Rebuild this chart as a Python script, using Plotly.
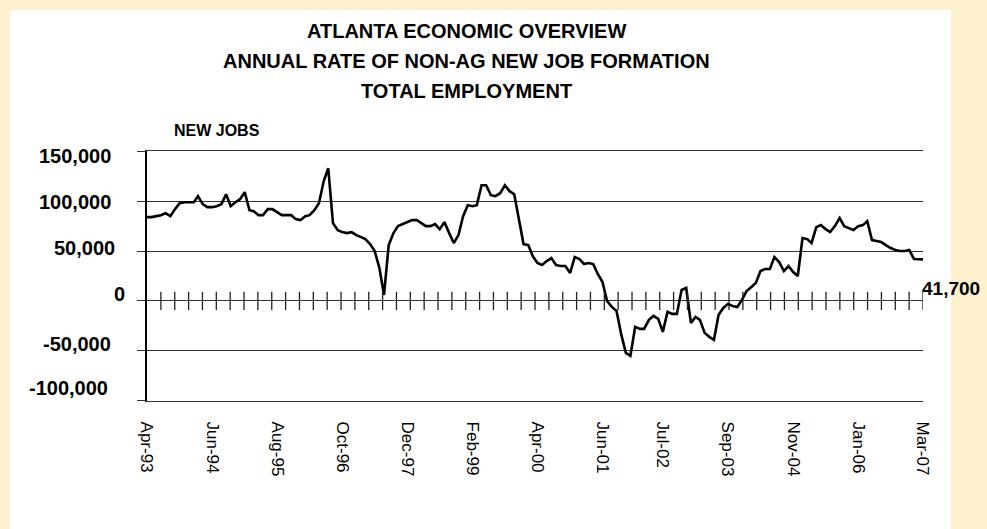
import numpy as np
import pandas as pd
import plotly.graph_objects as go

# ---- data -------------------------------------------------------------
start_month = "1993-04-01"

# Annual rate of non-ag new job formation, Atlanta, thousands of jobs (Apr-93 .. Mar-07)
new_jobs_k = [
    84, 84, 85, 86, 88, 85, 92, 98, 99, 99, 99, 105, 97, 94, 94, 95, 97, 107, 95, 99,
    102, 109, 91, 90, 86, 86, 92, 92, 89, 86, 86, 86, 82, 81, 85, 86, 91, 98, 120, 133,
    78, 71, 69, 68, 69, 66, 64, 62, 57, 50, 33, 6, 56, 68, 75, 77, 79, 81, 81, 78,
    75, 75, 77, 72, 79, 68, 58, 66, 85, 96, 95, 96, 116, 116, 106, 105, 108, 116, 110, 107,
    82, 57, 56, 45, 38, 36, 40, 43, 36, 35, 35, 28, 44, 42, 37, 38, 37, 27, 19, 0,
    -6, -10, -33, -52, -55, -26, -28, -28, -19, -15, -18, -31, -11, -13, -13, 11, 13, -22, -16, -19,
    -32, -36, -39, -14, -7, -3, -5, -6, 1, 10, 14, 18, 30, 32, 32, 44, 39, 30, 35, 29,
    25, 63, 62, 58, 74, 76, 72, 69, 75, 83, 75, 73, 71, 75, 76, 80, 61, 60, 59, 56,
    53, 51, 50, 50, 51, 42, 42, 41.7,
]

x_label_dates = ["1993-04-01", "1994-06-01", "1995-08-01", "1996-10-01", "1997-12-01",
                 "1999-02-01", "2000-04-01", "2001-06-01", "2002-07-01", "2003-09-01",
                 "2004-11-01", "2006-01-01", "2007-03-01"]
x_label_text = ["Apr-93", "Jun-94", "Aug-95", "Oct-96", "Dec-97", "Feb-99", "Apr-00",
                "Jun-01", "Jul-02", "Sep-03", "Nov-04", "Jan-06", "Mar-07"]

y_tick_values = [150000, 100000, 50000, 0, -50000, -100000]
y_tick_text = ["150,000", "100,000", "50,000", "0", "-50,000", "-100,000"]

title_lines = ["ATLANTA ECONOMIC OVERVIEW",
               "ANNUAL RATE OF NON-AG NEW JOB FORMATION",
               "TOTAL EMPLOYMENT"]
y_title = "NEW JOBS"

# ---- derived series ---------------------------------------------------
months = pd.date_range(start_month, periods=len(new_jobs_k), freq="MS")
new_jobs = [v * 1000 for v in new_jobs_k]

# quarterly tick marks drawn across the zero line
t0 = months[3].value
t1 = months[-1].value
quarter_ticks = pd.to_datetime(np.linspace(t0, t1, 56).astype("int64"))

# ---- layout geometry (pixels) ----------------------------------------
W, H = 987, 529
PL, PR, PT, PB = 147, 923, 151, 401          # plot-area box


def px_x(px):
    return (px - PL) / (PR - PL)


def px_y(py):
    return (PB - py) / (PB - PT)


FONT = "Liberation Sans, Arial, sans-serif"
YELLOW = "#FEF0CD"
GRID = "#333333"

fig = go.Figure()

# the job-formation series
fig.add_trace(go.Scatter(
    x=months, y=new_jobs, mode="lines",
    line=dict(color="black", width=2.6),
    hoverinfo="x+y", showlegend=False,
))

# tick marks crossing the zero line
fig.add_trace(go.Scatter(
    x=quarter_ticks, y=[0] * len(quarter_ticks), mode="markers",
    marker=dict(symbol="line-ns", size=13, line=dict(color="#222222", width=1.3)),
    hoverinfo="skip", showlegend=False,
))

annotations = []

# three-line title
title_centers = [31, 61, 91]
for line, cy in zip(title_lines, title_centers):
    annotations.append(dict(
        text=f"<b>{line}</b>", x=px_x(466), y=px_y(cy), xref="paper", yref="paper",
        xanchor="center", yanchor="middle", showarrow=False,
        font=dict(family=FONT, size=20, color="black"),
    ))

# axis caption above the value labels
annotations.append(dict(
    text=f"<b>{y_title}</b>", x=px_x(172), y=px_y(131), xref="paper", yref="paper",
    xanchor="left", yanchor="middle", showarrow=False,
    font=dict(family=FONT, size=16, color="black"),
))

# value labels on the left
label_right_edges = [113, 113, 117, 127, 113, 110]
label_shift_y = [-5, -1, 3, 7, 7, 13]
for val, txt, rx, sy in zip(y_tick_values, y_tick_text, label_right_edges, label_shift_y):
    annotations.append(dict(
        text=f"<b>{txt}</b>", x=px_x(rx), y=val, xref="paper", yref="y",
        xanchor="right", yanchor="middle", yshift=sy, showarrow=False,
        font=dict(family=FONT, size=20, color="black"),
    ))

# latest value label at the right end
last_val = new_jobs[-1]
annotations.append(dict(
    text=f"<b>{last_val:,.0f}</b>", x=months[-1], y=0, xref="x", yref="y",
    xanchor="left", yanchor="middle", xshift=-3, yshift=12, showarrow=False,
    font=dict(family=FONT, size=19, color="black"),
))

fig.update_layout(
    width=W, height=H,
    margin=dict(l=PL, r=W - PR, t=PT, b=H - PB, pad=0),
    paper_bgcolor=YELLOW, plot_bgcolor="white",
    showlegend=False,
    annotations=annotations,
    shapes=[dict(
        type="rect", xref="paper", yref="paper", layer="below",
        x0=px_x(10), x1=px_x(951), y0=px_y(H + 5), y1=px_y(10),
        fillcolor="white", line=dict(width=0),
    )],
)

fig.update_xaxes(
    range=[months[0], months[-1]],
    tickmode="array", tickvals=pd.to_datetime(x_label_dates), ticktext=x_label_text,
    tickangle=90, ticks="", showgrid=False, zeroline=False,
    showline=True, mirror=True, linecolor=GRID, linewidth=1.3,
    tickfont=dict(family=FONT, size=17, color="black"),
    ticklabelstandoff=16,
)

fig.update_yaxes(
    range=[-100300, 150300],
    tickmode="array", tickvals=y_tick_values, showticklabels=False,
    showgrid=True, gridcolor=GRID, gridwidth=1.3, zeroline=False,
    ticks="outside", ticklen=8, tickcolor=GRID, tickwidth=1.3,
    showline=True, linecolor="black", linewidth=1.5,
)

fig.write_html("out.html")
